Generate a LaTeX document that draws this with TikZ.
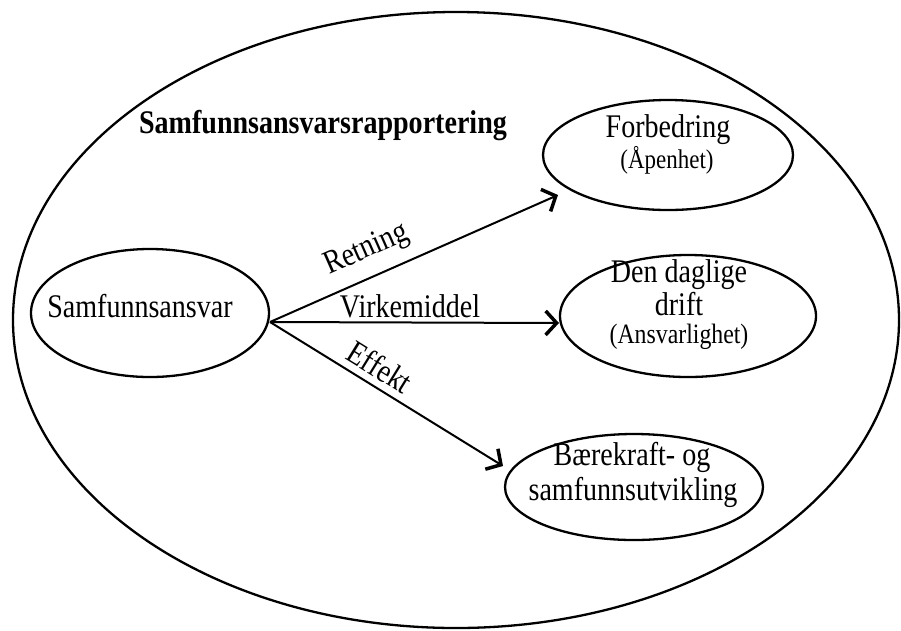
\documentclass[tikz,border=0pt]{standalone}
\usepackage{fontspec}
\setmainfont{Liberation Serif}
\usetikzlibrary{shapes.geometric,arrows.meta}
\newcommand{\sqz}[1]{\scalebox{0.85}[1]{#1}}
\begin{document}
\begin{tikzpicture}[x=1pt,y=-1pt,
  oval/.style={draw=black,line width=2.3pt,ellipse,inner sep=0pt},
  txt/.style={font=\fontsize{33}{38}\selectfont,anchor=base,inner sep=0pt},
  small/.style={font=\fontsize{28}{32}\selectfont,anchor=base,inner sep=0pt},
  conn/.style={line width=2pt,-{Straight Barb[length=11pt,width=24pt,line width=3.5pt]}},
  lbl/.style={font=\fontsize{33}{38}\selectfont,inner sep=0pt}]
\useasboundingbox (0,0) rectangle (901,630);
\node[oval,minimum width=886pt,minimum height=616pt] (outer) at (456,320) {};
\node[font=\bfseries\fontsize{33}{38}\selectfont,anchor=base,inner sep=0pt] (title) at (323,133) {\sqz{Samfunnsansvarsrapportering}};
\node[oval,minimum width=238pt,minimum height=128pt] (sa) at (150,313) {};
\node[txt] (satxt) at (140,317) {\sqz{Samfunnsansvar}};
\node[oval,minimum width=250pt,minimum height=110pt] (forb) at (668,155) {};
\node[txt] (forb1) at (668,137) {\sqz{Forbedring}};
\node[small,font=\fontsize{27}{32}\selectfont] (forb2) at (667,168) {\sqz{(Åpenhet)}};
\node[oval,minimum width=256pt,minimum height=122pt] (drift) at (688,316) {};
\node[txt] (drift1) at (679,282) {\sqz{Den daglige}};
\node[txt] (drift2) at (679,315) {\sqz{drift}};
\node[small] (drift3) at (679,343) {\sqz{(Ansvarlighet)}};
\node[oval,minimum width=258pt,minimum height=106pt] (baer) at (634,487) {};
\node[txt] (baer1) at (632,465) {\sqz{Bærekraft- og}};
\node[txt] (baer2) at (633,500) {\sqz{samfunnsutvikling}};
\coordinate (src) at (270,322);
\coordinate (t1) at (558,195);
\coordinate (t2) at (559,323);
\coordinate (t3) at (503,466);
\draw[conn] (src) -- (t1);
\draw[conn] (src) -- (t2);
\draw[conn] (src) -- (t3);
\node[lbl,rotate=23.8] (l1) at (367,250) {\sqz{Retning}};
\node[txt] (l2) at (410,317) {\sqz{Virkemiddel}};
\node[lbl,rotate=-31.7] (l3) at (380,367) {\sqz{Effekt}};
\end{tikzpicture}
\end{document}
